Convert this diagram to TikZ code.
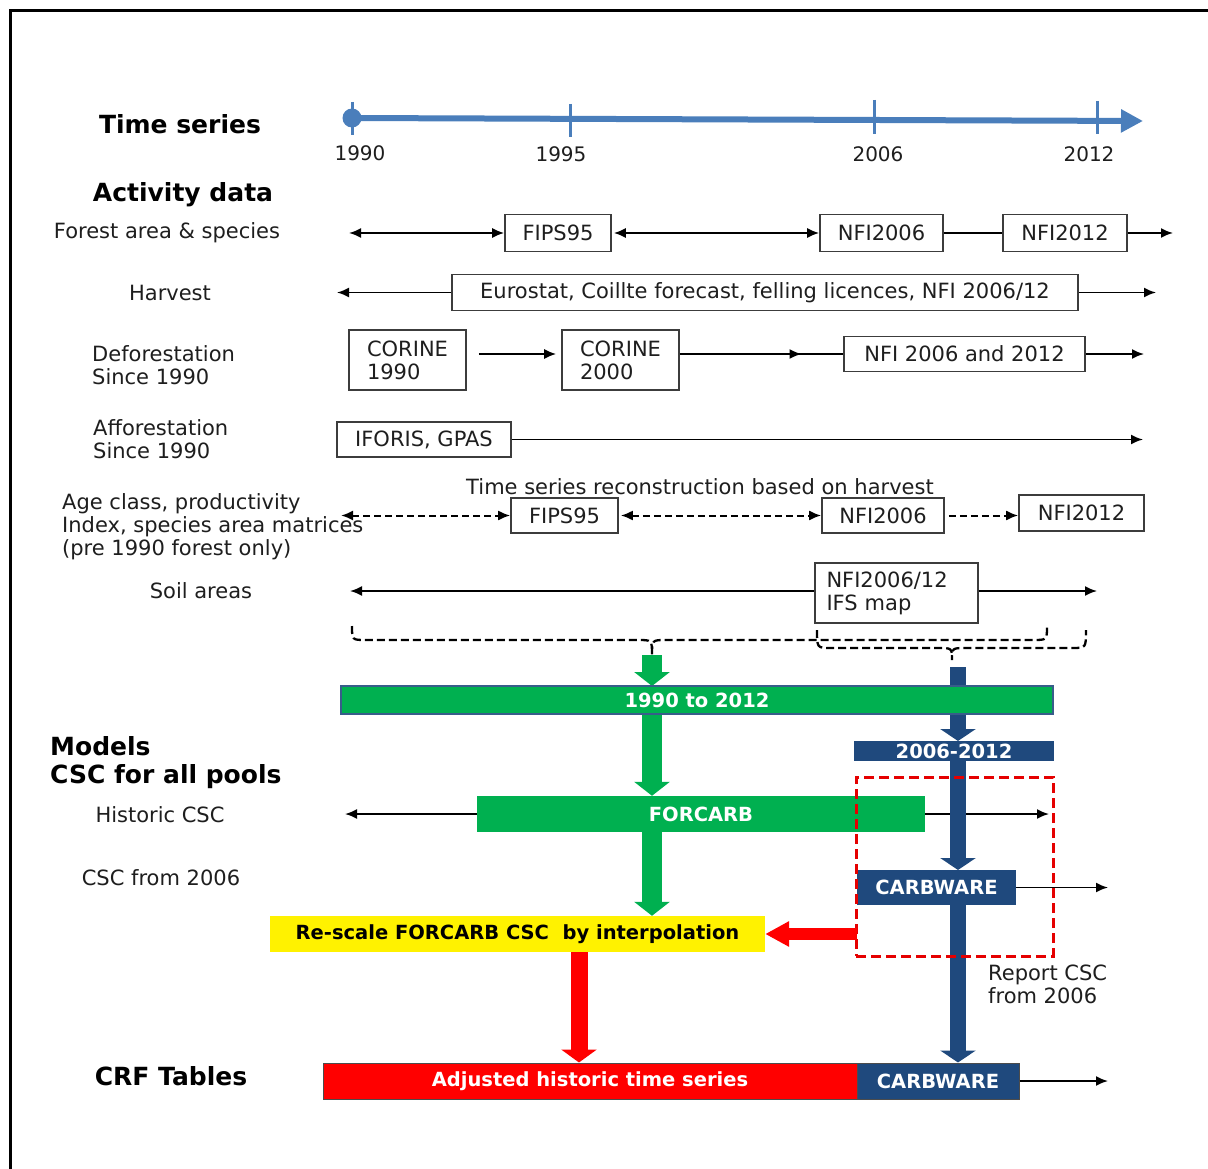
\documentclass[tikz,border=0pt]{standalone}
\usepackage{fontspec}
\setmainfont{DejaVu Sans}
\usetikzlibrary{arrows.meta,calc,decorations.markings}
\definecolor{tblue}{RGB}{74,126,187}
\definecolor{ggreen}{RGB}{0,176,80}
\definecolor{dblue}{RGB}{31,73,125}
\definecolor{bborder}{RGB}{56,93,138}
\definecolor{txt}{RGB}{30,30,30}
\definecolor{boxline}{RGB}{60,60,60}
\begin{document}
\begin{tikzpicture}[x=1pt,y=-1pt,
  lab/.style={font=\fontsize{21}{23}\selectfont, text=txt, inner sep=0pt, align=left},
  headtxt/.style={font=\fontsize{25}{30}\selectfont\bfseries, text=black, inner sep=0pt},
  yr/.style={font=\fontsize{20}{24}\selectfont, text=txt, inner sep=0pt},
  databox/.style={draw=boxline, line width=1.6pt, fill=white, font=\fontsize{21}{23}\selectfont, text=txt, inner sep=0pt, align=left},
  barbox/.style={inner sep=0pt, font=\fontsize{19.5}{23}\selectfont\bfseries, text=white},
  thinarr/.style={line width=1.8pt, -{Latex[length=12pt,width=10pt]}},
  dblarr/.style={line width=1.8pt, {Latex[length=12pt,width=10pt]}-{Latex[length=12pt,width=10pt]}},
  plainline/.style={line width=1.8pt},
  dashdbl/.style={line width=2pt, dash pattern=on 7pt off 4pt, {Latex[length=12pt,width=10pt]}-{Latex[length=12pt,width=10pt]}},
  dashone/.style={line width=2pt, dash pattern=on 7pt off 4pt, -{Latex[length=12pt,width=10pt]}},
  bracepath/.style={line width=2.3pt, dash pattern=on 8pt off 4pt},
  garr/.style={draw=ggreen, line width=20pt, -{Triangle[length=14pt,width=35pt]}},
  barr/.style={draw=dblue, line width=16pt, -{Triangle[length=12pt,width=35pt]}},
  rarrh/.style={draw=red, line width=12pt, -{Triangle[length=24pt,width=24pt]}},
  rarrv/.style={draw=red, line width=17pt, -{Triangle[length=13pt,width=35pt]}},
  midarrow/.style={postaction={decorate}, decoration={markings, mark=at position #1 with {\arrow{Latex[length=12pt,width=10pt]}}}}
]
\fill[white] (0,0) rectangle (1208,1169);
\useasboundingbox (0,0) rectangle (1208,1169);
% frame
\draw[line width=3pt] (10,1169) -- (10,11) -- (1208,11);

% ---------- Time series ----------
\node[headtxt] (ts) at (180,124) {Time series};
\coordinate (t0) at (352,118);
\coordinate (t1) at (1143,121);
\draw[tblue, line width=6pt, -{Triangle[length=22pt,width=22pt]}] (t0) -- (t1);
\fill[tblue] (t0) circle (9.5);
\draw[tblue, line width=3pt] (352,102) -- (352,135);
\draw[tblue, line width=3pt] (570,104) -- (570,137);
\draw[tblue, line width=3pt] (874,100) -- (874,134);
\draw[tblue, line width=3pt] (1097,101) -- (1097,134);
\node[yr] (y1990) at (360,153) {1990};
\node[yr] (y1995) at (561,154) {1995};
\node[yr] (y2006) at (878,154) {2006};
\node[yr] (y2012) at (1089,154) {2012};

% ---------- Activity data ----------
\node[headtxt] (ad) at (183,195) {Activity data};

% row 1
\node[lab] (lfa) at (167,233) {Forest area \& species};
\node[databox, minimum width=106pt, minimum height=37pt] (fips1) at (558,233) {FIPS95};
\node[databox, minimum width=123pt, minimum height=37pt] (nfi06a) at (881.5,233) {NFI2006};
\node[databox, minimum width=124pt, minimum height=37pt] (nfi12a) at (1065,233) {NFI2012};
\coordinate (r1L) at (349,233);
\coordinate (r1R) at (1173,233);
\draw[dblarr] (r1L) -- (fips1.west);
\draw[dblarr] ($(fips1.east)+(2,0)$) -- (nfi06a.west);
\draw[plainline] (nfi06a.east) -- (nfi12a.west);
\draw[thinarr] (nfi12a.east) -- (r1R);

% row 2
\node[lab] (lharv) at (170,293) {Harvest};
\node[databox, minimum width=626pt, minimum height=36pt] (harv) at (765,292.5) {Eurostat, Coillte forecast, felling licences, NFI 2006/12};
\coordinate (r2L) at (337,292.5);
\coordinate (r2R) at (1156,292.5);
\draw[thinarr] (harv.west) -- (r2L);
\draw[thinarr] (harv.east) -- (r2R);

% row 3
\node[lab, anchor=west] (ldef) at (92,365.5) {Deforestation\\Since 1990};
\node[databox, minimum width=117pt, minimum height=60pt] (c1990) at (407.5,360) {CORINE\\1990};
\node[databox, minimum width=117pt, minimum height=60pt] (c2000) at (620.5,360) {CORINE\\2000};
\node[databox, minimum width=241pt, minimum height=35pt] (nfiboth) at (964.5,354) {NFI 2006 and 2012};
\draw[thinarr] ($(c1990.east |- nfiboth.west)+(12,0)$) -- ($(c2000.west |- nfiboth.west)+(-5,0)$);
\draw[plainline, midarrow=0.745] (c2000.east |- nfiboth.west) -- (nfiboth.west);
\coordinate (r3R) at (1144,354);
\draw[thinarr] (nfiboth.east) -- (r3R);

% row 4
\node[lab, anchor=west] (laff) at (93,439) {Afforestation\\Since 1990};
\node[databox, minimum width=174pt, minimum height=35pt] (iforis) at (424,439.5) {IFORIS, GPAS};
\coordinate (r4R) at (1143,439.5);
\draw[thinarr] (iforis.east) -- (r4R);

% row 5
\node[lab, anchor=west] (lage) at (62,527) {Age class, productivity\\Index, species area matrices\\(pre 1990 forest only)};
\node[lab] (recon) at (700,487) {Time series reconstruction based on harvest};
\node[databox, minimum width=107pt, minimum height=35pt] (fips2) at (564.5,515.5) {FIPS95};
\node[databox, minimum width=122pt, minimum height=35pt] (nfi06b) at (883,515.5) {NFI2006};
\node[databox, minimum width=125pt, minimum height=36pt] (nfi12b) at (1081.5,513) {NFI2012};
\coordinate (r5L) at (341,515.5);
\draw[dashdbl] (r5L) -- (fips2.west);
\draw[dashdbl] ($(fips2.east)+(2,0)$) -- (nfi06b.west);
\draw[dashone] ($(nfi06b.east)+(4,0)$) -- (nfi12b.west |- nfi06b.east);

% row 6
\node[lab] (lsoil) at (201,591) {Soil areas};
\node[databox, minimum width=163pt, minimum height=60pt, text width=140pt] (soil) at (896.5,593) {NFI2006/12\\IFS map};
\coordinate (r6L) at (350,591);
\coordinate (r6R) at (1097,591);
\draw[thinarr] (soil.west |- r6L) -- (r6L);
\draw[thinarr] (soil.east |- r6R) -- (r6R);

% braces
\coordinate (brA) at (652,655);
\coordinate (brB) at (952,660);
\draw[bracepath] (352,626) .. controls (352,640) .. (366,640) -- (638,640) .. controls (652,640) .. (brA) .. controls (652,640) .. (666,640) -- (1033,640) .. controls (1047,640) .. (1047,626);
\draw[bracepath] (817,630) .. controls (817,648) .. (831,648) -- (938,648) .. controls (952,648) .. (brB) .. controls (952,648) .. (966,648) -- (1072,648) .. controls (1086,648) .. (1086,630);

% ---------- Models ----------
\node[headtxt, anchor=west] (models) at (50,746) {Models};
\node[headtxt, anchor=west] (cscall) at (50,777) {CSC for all pools};
\node[lab] (lhist) at (160,815) {Historic CSC};
\node[lab] (lfrom) at (161,878) {CSC from 2006};

\coordinate (bstart) at (958,667);
\draw[garr] (brA) -- (652,686);
\draw[barr] (bstart) -- (958,741);
\node[barbox, fill=ggreen, draw=bborder, line width=2.5pt, minimum width=712pt, minimum height=28pt] (bar1) at (697,700) {1990 to 2012};
\node[barbox, fill=dblue, minimum width=200pt, minimum height=20pt] (bar2) at (954,751) {2006-2012};

\node[barbox, fill=ggreen, minimum width=448pt, minimum height=36pt] (forcarb) at (701,814) {FORCARB};
\coordinate (r7L) at (345,814);
\coordinate (r7R) at (1049,814);
\draw[thinarr] (forcarb.west) -- (r7L);
\draw[thinarr] (forcarb.east) -- (r7R);

\draw[garr] (bar1.south -| brA) -- (forcarb.north -| brA);
\draw[barr] (bar2.south -| bstart) -- (bstart |- 0,870);
\node[barbox, fill=dblue, minimum width=159pt, minimum height=35pt] (carb1) at (936.5,887.5) {CARBWARE};
\coordinate (r8R) at (1108,887.5);
\draw[thinarr] (carb1.east) -- (r8R);

\node[inner sep=0pt, fill=yellow, minimum width=495pt, minimum height=36pt, font=\fontsize{19.5}{23}\selectfont\bfseries, text=black] (yellowbox) at (517.5,934) {Re-scale FORCARB CSC\ \ by interpolation};
\draw[garr] (forcarb.south -| brA) -- (yellowbox.north -| brA);

% final row
\node[headtxt] (crf) at (171,1076) {CRF Tables};
\node[barbox, fill=red, draw=black!70, line width=1pt, minimum width=534pt, minimum height=36pt] (redbar) at (590,1081) {Adjusted historic time series};
\node[barbox, fill=dblue, draw=black!70, line width=1pt, minimum width=162pt, minimum height=36pt] (carb2) at (938,1081) {CARBWARE};
\coordinate (r9R) at (1108,1081);
\draw[thinarr] (carb2.east) -- (r9R);

\draw[barr] (carb1.south -| bstart) -- (carb2.north -| bstart);
\coordinate (rx) at (579,0);
\draw[rarrv] (yellowbox.south -| rx) -- (redbar.north -| rx);

% dashed red region
\node[draw=red!90!black, line width=3pt, dash pattern=on 10pt off 5pt, minimum width=197pt, minimum height=179pt, inner sep=0pt] (dashrect) at (954.5,866.5) {};
\draw[rarrh] ($(dashrect.west |- yellowbox.east)+(2,0)$) -- (yellowbox.east);

\node[lab, anchor=west] (report) at (988,984) {Report CSC\\from 2006};
\end{tikzpicture}
\end{document}
